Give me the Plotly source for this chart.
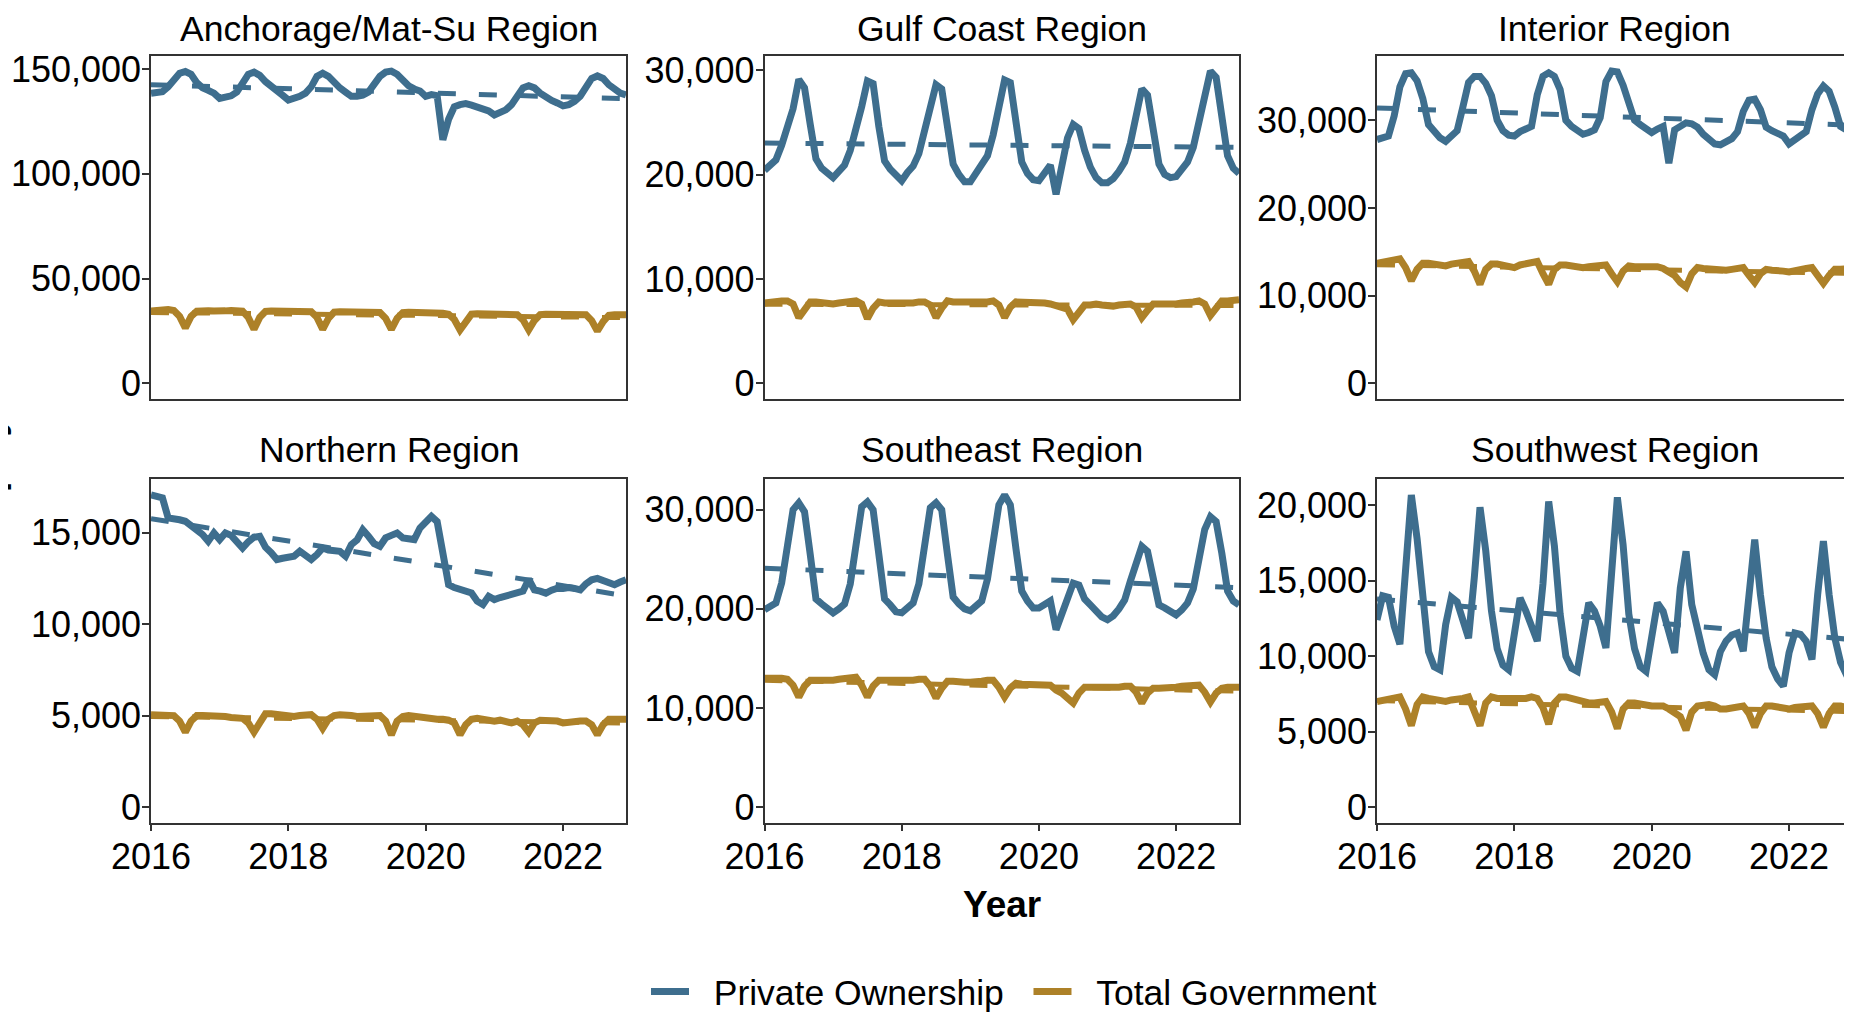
import numpy as np
import plotly.graph_objects as go

years = [2016, 2017, 2018, 2019, 2020, 2021, 2022]
months = list(range(12))

regions = ["Anchorage/Mat-Su Region", "Gulf Coast Region", "Interior Region",
           "Northern Region", "Southeast Region", "Southwest Region"]
series_names = ["Private Ownership", "Total Government"]

anchorage_private = [
    138400, 138600, 139200, 141500, 145000, 148000, 148800, 147500, 143500, 141000, 139800, 138500,
    136000, 136500, 137200, 139000, 144000, 147500, 148500, 147000, 144000, 141500, 139000, 137500,
    135200, 136000, 137000, 138500, 141500, 146500, 148000, 146500, 143500, 141000, 139000, 137000,
    137000, 137500, 139000, 143000, 146500, 148500, 149000, 147500, 144500, 142000, 140500, 139500,
    137000, 137800, 137300, 116200, 126000, 132000, 133000, 133500, 132800, 132000, 131000, 130000,
    128100, 129000, 130500, 133000, 137000, 141000, 142000, 141000, 138500, 136500, 135000, 133800,
    132400, 133000, 134500, 137000, 141500, 145500, 146700, 145500, 142500, 140000, 138500, 137600]
anchorage_gov = [
    34500, 35000, 35200, 35200, 34800, 32000, 26500, 32000, 34500, 34800, 34700, 34500,
    34200, 34600, 34800, 34800, 34500, 31500, 25800, 31500, 34300, 34500, 34400, 34200,
    34000, 34300, 34500, 34500, 34200, 31500, 25800, 31000, 34000, 34200, 34100, 33900,
    33700, 34000, 34200, 34200, 33800, 31000, 25800, 31000, 33800, 34000, 34000, 33700,
    33700, 34000, 34000, 33500, 33000, 30500, 25500, 30000, 33000, 33200, 33100, 32800,
    32600, 32900, 33000, 33000, 32800, 30300, 25500, 30000, 32800, 33000, 33000, 32700,
    32500, 32800, 33000, 33000, 32800, 30000, 25000, 29500, 32500, 32800, 33000, 32700]

gulf_private = [
    20400, 21000, 21400, 22800, 24500, 26300, 29100, 28300, 24800, 21500, 20600, 20100,
    19700, 20300, 20900, 22300, 24200, 26500, 28950, 28700, 24600, 21300, 20500, 20000,
    19400, 20200, 20800, 22000, 24000, 26300, 28600, 28200, 24300, 21000, 20000, 19300,
    19300, 20200, 20900, 21800, 23800, 26500, 29050, 28800, 24800, 21200, 20100, 19500,
    19400, 20300, 20900, 18100, 20800, 23500, 24800, 24400, 22300, 20700, 19700, 19200,
    19200, 19600, 20300, 21200, 23000, 25800, 28200, 27600, 24000, 21000, 20000, 19700,
    19800, 20500, 21200, 22600, 24800, 27300, 29900, 29300, 25300, 21800, 20600, 20100]
gulf_gov = [
    7700, 7800, 7800, 7900, 7900, 7600, 6300, 7200, 7800, 7800, 7700, 7700,
    7600, 7700, 7800, 7800, 7900, 7600, 6200, 7200, 7800, 7700, 7700, 7600,
    7600, 7700, 7700, 7800, 7800, 7500, 6300, 7200, 7900, 7800, 7800, 7700,
    7700, 7700, 7800, 7800, 7900, 7500, 6300, 7300, 7800, 7800, 7700, 7700,
    7700, 7700, 7600, 7400, 7300, 7100, 6100, 6900, 7500, 7500, 7600, 7500,
    7400, 7400, 7500, 7600, 7600, 7300, 6300, 7000, 7600, 7600, 7600, 7500,
    7600, 7700, 7700, 7800, 7900, 7600, 6500, 7300, 7900, 7900, 7900, 8000]

interior_private = [
    27800, 28000, 28200, 30500, 33800, 35300, 35400, 34500, 32500, 29500, 28600, 28000,
    27600, 28100, 28800, 31500, 34300, 35000, 35000, 34200, 32800, 30000, 28800, 28300,
    28200, 28700, 29000, 29300, 32900, 35000, 35400, 35000, 33500, 30000, 29300, 28900,
    28400, 28600, 28900, 30300, 34400, 35600, 35500, 34000, 32000, 30000, 29500, 29000,
    28600, 29000, 29300, 25100, 28900, 29300, 29700, 29600, 29200, 28400, 27800, 27300,
    27200, 27500, 27900, 28700, 31000, 32300, 32400, 31200, 29200, 28800, 28600, 28200,
    27300, 27800, 28300, 28700, 31200, 33000, 33900, 33300, 31500, 29300, 28900, 28700]
interior_gov = [
    13700, 13800, 13900, 14100, 14200, 13200, 11700, 13000, 13700, 13700, 13600, 13500,
    13400, 13600, 13700, 13800, 13900, 12800, 11300, 13000, 13600, 13600, 13500, 13200,
    13200, 13500, 13700, 13800, 13900, 12500, 11300, 13000, 13500, 13500, 13400, 13300,
    13200, 13300, 13400, 13400, 13500, 12500, 11600, 12800, 13400, 13300, 13300, 13200,
    13200, 13300, 13100, 12700, 12300, 11500, 11000, 12500, 13200, 13100, 13000, 12900,
    12800, 12900, 13000, 13100, 13200, 12300, 11500, 12500, 13000, 12900, 12900, 12800,
    12700, 12900, 13000, 13100, 13200, 12300, 11400, 12300, 13000, 13000, 13000, 13100]

northern_private = [
    17060, 17000, 16900, 15800, 15700, 15700, 15620, 15400, 15160, 14900, 14530, 14980,
    14620, 14980, 14850, 14500, 14160, 14500, 14750, 14800, 14200, 13900, 13530, 13600,
    13650, 13710, 13980, 13700, 13530, 13800, 14160, 14050, 13980, 13980, 13710, 14340,
    14600, 15160, 14800, 14400, 14250, 14710, 14850, 14980, 14710, 14650, 14620, 15250,
    15600, 15890, 15600, 13980, 12160, 12000, 11900, 11800, 11700, 11250, 11070, 11520,
    11340, 11450, 11520, 11600, 11700, 11800, 12450, 11870, 11800, 11690, 11850, 11960,
    11950, 12000, 11950, 11870, 12200, 12420, 12500, 12400, 12300, 12150, 12300, 12420]
northern_gov = [
    5050, 5050, 5050, 5050, 5000, 4700, 4100, 4700, 5000, 5000, 5000, 4950,
    4950, 4950, 4900, 4900, 4850, 4600, 4100, 4600, 5100, 5100, 5050, 5000,
    5000, 4950, 5000, 5000, 5050, 4800, 4300, 4800, 5000, 5050, 5050, 5000,
    4950, 4950, 4950, 4950, 5000, 4700, 3950, 4700, 4950, 5000, 4950, 4900,
    4850, 4850, 4800, 4800, 4750, 4600, 3950, 4500, 4800, 4850, 4800, 4750,
    4700, 4750, 4700, 4600, 4700, 4500, 4100, 4600, 4750, 4750, 4700, 4700,
    4600, 4650, 4650, 4700, 4700, 4500, 3950, 4500, 4800, 4800, 4750, 4800]

southeast_private = [
    19900, 20300, 20600, 22600, 26300, 30000, 30700, 29800, 25500, 21000, 20500, 20000,
    19600, 20000, 20500, 22500, 26500, 30300, 30800, 30000, 25500, 21000, 20400, 19700,
    19600, 20100, 20600, 22500, 26300, 30200, 30700, 30000, 25500, 21200, 20500, 20000,
    19800, 20200, 20800, 23000, 27000, 30500, 31500, 30500, 26000, 21800, 20800, 20100,
    20100, 20500, 20800, 17900, 19500, 21500, 22600, 22400, 21000, 20400, 19800, 19200,
    18900, 19300, 20000, 20900, 22800, 24500, 26300, 25800, 23000, 20400, 20100, 19700,
    19400, 19900, 20600, 22000, 25300, 28000, 29300, 28800, 25600, 21800, 20800, 20400]
southeast_gov = [
    13000, 13000, 13100, 13000, 12900, 12300, 11100, 12200, 12800, 12800, 12700, 12800,
    12800, 12900, 13000, 13000, 13100, 12300, 11100, 12200, 12800, 12800, 12800, 12700,
    12700, 12800, 12800, 12900, 12900, 12200, 11000, 12000, 12700, 12700, 12600, 12600,
    12600, 12600, 12700, 12800, 12800, 12100, 11100, 12000, 12500, 12400, 12400, 12400,
    12300, 12400, 12300, 11800, 11500, 11000, 10500, 11500, 12100, 12100, 12100, 12000,
    12000, 12100, 12100, 12200, 12200, 11600, 10500, 11500, 12000, 12000, 12000, 12100,
    12100, 12200, 12200, 12300, 12300, 11600, 10600, 11500, 12000, 12100, 12100, 12100]

southwest_private = [
    12400, 14000, 13900, 12000, 10800, 15200, 20690, 17800, 13500, 10300, 9300, 9100,
    12100, 13900, 13600, 12500, 11200, 15200, 19870, 17000, 13000, 10500, 9400, 9100,
    11650, 13860, 13000, 12000, 11000, 14800, 20260, 17300, 12800, 10000, 9200, 9000,
    11650, 13530, 13000, 12000, 10550, 15190, 20530, 17400, 12800, 10500, 9300, 9000,
    11430, 13530, 12980, 11500, 10220, 14520, 16950, 13420, 11650, 10200, 9110, 8780,
    10300, 11000, 11400, 11540, 10330, 14080, 17730, 14080, 11200, 9300, 8500, 8010,
    10220, 11540, 11450, 11000, 9780, 14080, 17620, 14080, 11210, 9600, 8700, 8000]
southwest_gov = [
    7000, 7100, 7200, 7300, 7300, 6500, 5400, 6800, 7300, 7200, 7100, 7100,
    7000, 7100, 7100, 7200, 7300, 6400, 5400, 6900, 7300, 7200, 7200, 7100,
    7100, 7200, 7200, 7300, 7200, 6600, 5500, 6900, 7300, 7300, 7200, 7000,
    6900, 6900, 6900, 7000, 7000, 6300, 5200, 6500, 6900, 6900, 6800, 6800,
    6700, 6700, 6700, 6500, 6300, 6000, 5100, 6300, 6700, 6800, 6800, 6700,
    6500, 6500, 6600, 6600, 6700, 6200, 5300, 6200, 6700, 6700, 6600, 6500,
    6500, 6600, 6600, 6700, 6700, 6200, 5300, 6200, 6700, 6700, 6600, 6700]

private_by_region = [anchorage_private, gulf_private, interior_private,
                     northern_private, southeast_private, southwest_private]
gov_by_region = [anchorage_gov, gulf_gov, interior_gov,
                 northern_gov, southeast_gov, southwest_gov]
y_dticks = [50000, 10000, 10000, 5000, 10000, 5000]
x_tickvals = [2016, 2018, 2020, 2022]

colors = ["#3e6e8e", "#ad8128"]
FONT = "Liberation Sans, Arial, Helvetica, sans-serif"
# the page body has an 8px margin, so the figure is 8px smaller than the window
W, H = 1844, 1006
NB = "\u00a0\u00a0"

x = np.array([yr + m / 12 for yr in years for m in months])
x_range = [x[0], x[-1]]

col_px = [(143, 618), (756.5, 1231), (1369, 1844)]
row_px = [(47.5, 391), (471.3, 814.7)]

fig = go.Figure()
layout = dict(
    width=W, height=H, margin=dict(l=0, r=0, t=0, b=0, autoexpand=False),
    paper_bgcolor="white", plot_bgcolor="white",
    font=dict(family=FONT, size=36, color="black"),
    showlegend=True,
    legend=dict(orientation="h", x=1006 / W, xanchor="center", y=1 - 984 / H, yanchor="middle",
                font=dict(size=35.5, family=FONT, color="black"), bgcolor="rgba(0,0,0,0)",
                itemwidth=38, tracegroupgap=0),
)
annotations = []

for k in range(6):
    r, c = divmod(k, 3)
    ax = "" if k == 0 else str(k + 1)
    xa, ya = "x" + ax, "y" + ax
    series = [private_by_region[k], gov_by_region[k]]
    for s, vals in enumerate(series):
        label = NB + series_names[s] + (NB if s == 0 else "")
        fig.add_trace(go.Scatter(
            x=x, y=vals, mode="lines", xaxis=xa, yaxis=ya,
            line=dict(color=colors[s], width=7),
            name=label, legendgroup=series_names[s],
            showlegend=(k == 0), hoverinfo="skip"))
    for s, vals in enumerate(series):
        slope, icpt = np.polyfit(x, np.array(vals, dtype=float), 1)
        xs = np.array(x_range)
        fig.add_trace(go.Scatter(
            x=xs, y=slope * xs + icpt, mode="lines", xaxis=xa, yaxis=ya,
            line=dict(color=colors[s], width=5, dash="18px,23px"),
            showlegend=False, hoverinfo="skip"))

    M = max(max(series[0]), max(series[1]))
    x0, x1 = col_px[c]
    y0, y1 = row_px[r]
    layout["xaxis" + ax] = dict(
        domain=[x0 / W, x1 / W], anchor=ya, range=x_range,
        tickvals=x_tickvals if r == 1 else [], showticklabels=(r == 1),
        ticks="outside" if r == 1 else "", ticklen=7, tickwidth=1.5, tickcolor="#333333",
        ticklabelstandoff=-6,
        showgrid=False, zeroline=False, showline=True, mirror=True,
        linecolor="#333333", linewidth=1.5,
        tickfont=dict(size=36, family=FONT, color="black"))
    layout["yaxis" + ax] = dict(
        domain=[1 - y1 / H, 1 - y0 / H], anchor=xa, range=[-0.05 * M, 1.05 * M],
        dtick=y_dticks[k], tick0=0, tickformat=",d",
        ticks="outside", ticklen=7, tickwidth=1.5, tickcolor="#333333",
        ticklabelstandoff=-6,
        showgrid=False, zeroline=False, showline=True, mirror=True,
        linecolor="#333333", linewidth=1.5,
        tickfont=dict(size=36, family=FONT, color="black"))
    title_y = 21 if r == 0 else 442
    annotations.append(dict(
        text=regions[k], x=(x0 + x1) / 2 / W, y=1 - title_y / H,
        xref="paper", yref="paper", xanchor="center", yanchor="middle",
        showarrow=False, font=dict(size=35.5, family=FONT, color="black")))

annotations.append(dict(
    text="<b>Year</b>", x=993.5 / W, y=1 - 896 / H, xref="paper", yref="paper",
    xanchor="center", yanchor="middle", showarrow=False,
    font=dict(size=37, family=FONT, color="black")))
annotations.append(dict(
    text="<b>Employment</b>", x=3 / W, y=1 - 431 / H, xref="paper", yref="paper",
    xanchor="right", yanchor="middle", textangle=-90, showarrow=False, borderpad=0,
    font=dict(size=37, family=FONT, color="black")))

layout["annotations"] = annotations
fig.update_layout(**layout)
fig.write_html("out.html")
